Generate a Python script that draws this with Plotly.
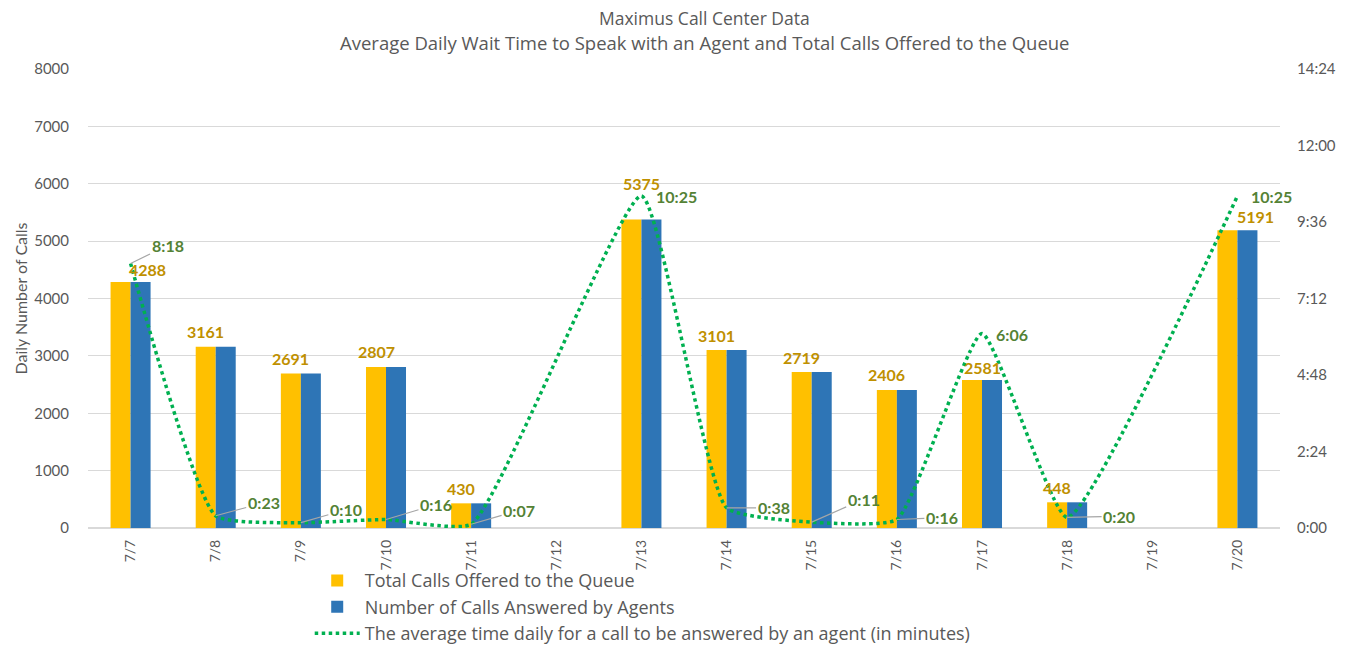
import plotly.graph_objects as go

dates = ["7/7", "7/8", "7/9", "7/10", "7/11", "7/12", "7/13", "7/14", "7/15", "7/16", "7/17", "7/18", "7/19", "7/20"]
offered = [4288, 3161, 2691, 2807, 430, None, 5375, 3101, 2719, 2406, 2581, 448, None, 5191]
answered = [4288, 3161, 2691, 2807, 430, None, 5375, 3101, 2719, 2406, 2581, 448, None, 5191]
# average wait in minutes (m:ss)
wait_labels = ["8:18", "0:23", "0:10", "0:16", "0:07", None, "10:25", "0:38", "0:11", "0:16", "6:06", "0:20", None, "10:25"]
right_ticks = ["0:00", "2:24", "4:48", "7:12", "9:36", "12:00", "14:24"]
title_lines = ["Maximus Call Center Data",
               "Average Daily Wait Time to Speak with an Agent and Total Calls Offered to the Queue"]


def to_min(s):
    if s is None:
        return None
    m, sec = s.split(":")
    return int(m) + int(sec) / 60.0


wait = [to_min(s) for s in wait_labels]

FONT = "Lato, Carlito, Open Sans, sans-serif"
FONT2 = "Open Sans, Lato, sans-serif"
GRAY = "#595959"
GOLD = "#BF9000"
GREEN = "#548235"

fig = go.Figure()
fig.add_bar(x=dates, y=offered, name="Total Calls Offered to the Queue",
            marker=dict(color="#FFC000", line=dict(width=0)))
fig.add_bar(x=dates, y=answered, name="Number of Calls Answered by Agents",
            marker=dict(color="#2E75B6", line=dict(width=0)))
fig.add_scatter(x=dates, y=wait, yaxis="y2", mode="lines", connectgaps=True,
                name="The average time daily for a call to be answered by an agent (in minutes)",
                line=dict(color="#00B050", width=3.5, dash="dot", shape="spline", smoothing=0.45))

# bar value labels (xshift, yshift in px)
bar_off = {"7/7": (17, 12), "7/13": (0, 36), "7/17": (0, 12), "7/20": (18, 14)}
for d, v in zip(dates, offered):
    if v is None:
        continue
    xs, ys = bar_off.get(d, (-10, 15))
    fig.add_annotation(x=d, y=v, text=str(v), showarrow=False, xshift=xs, yshift=ys,
                       font=dict(family=FONT, size=16, color=GOLD, weight="bold"))

# line value labels: (ax, ay, leader)
line_off = {"7/7": (37, -18, True), "7/8": (48, -13, True), "7/9": (45, -13, True),
            "7/10": (50, -15, True), "7/11": (48, -14, True), "7/13": (35, 1, False),
            "7/14": (47, 0, True), "7/15": (52, -23, True), "7/16": (45, -2, True),
            "7/17": (30, 1, False), "7/18": (52, -1, True), "7/20": (34, 1, False)}
for d, v, lab in zip(dates, wait, wait_labels):
    if v is None:
        continue
    ax, ay, leader = line_off[d]
    if leader:
        fig.add_annotation(x=d, y=v, yref="y2", text=lab, showarrow=True, arrowhead=0,
                           arrowwidth=1.2, arrowcolor="#A6A6A6", ax=ax, ay=ay, standoff=0,
                           font=dict(family=FONT, size=16, color=GREEN, weight="bold"))
    else:
        fig.add_annotation(x=d, y=v, yref="y2", text=lab, showarrow=False, xshift=ax, yshift=-ay,
                           font=dict(family=FONT, size=16, color=GREEN, weight="bold"))

# title lines
for txt, ys, fs in zip(title_lines, [51, 27], [17.5, 18.5]):
    fig.add_annotation(xref="paper", yref="paper", x=0.5176, y=1, yshift=ys, text=txt,
                       showarrow=False, xanchor="center", yanchor="middle",
                       font=dict(family=FONT2, size=fs, color=GRAY))

fig.update_layout(
    width=1353, height=646,
    margin=dict(l=80, r=81, t=61, b=126, autoexpand=False),
    paper_bgcolor="white", plot_bgcolor="white",
    font=dict(family=FONT, color=GRAY, size=15),
    barmode="group", bargap=0.53, bargroupgap=0,
    xaxis=dict(type="category", range=[-0.5, len(dates) - 0.5], tickangle=-90, showgrid=False,
               showline=False, ticks="", ticklabelstandoff=8, automargin=False,
               tickfont=dict(family=FONT, size=14, color=GRAY)),
    yaxis=dict(range=[0, 8000], dtick=1000, showgrid=True, gridcolor="#D9D9D9", gridwidth=1,
               zeroline=True, zerolinecolor="#D9D9D9", ticks="", ticklabelstandoff=18,
               automargin=False,
               title=dict(text="Daily Number of Calls", font=dict(family=FONT, size=16, color=GRAY), standoff=2),
               tickfont=dict(family=FONT, size=15, color=GRAY)),
    yaxis2=dict(overlaying="y", side="right", range=[0, 14.4], tickvals=[0, 2.4, 4.8, 7.2, 9.6, 12.0, 14.4],
                ticktext=right_ticks, showgrid=False, zeroline=False, ticks="", ticklabelstandoff=16,
                automargin=False, tickfont=dict(family=FONT, size=15, color=GRAY)),
    legend=dict(orientation="v", xref="paper", x=0.186, xanchor="left", yref="container", y=0.142,
                yanchor="top", font=dict(family=FONT2, size=18, color=GRAY), tracegroupgap=0,
                itemwidth=45, bgcolor="rgba(0,0,0,0)"),
    showlegend=True,
)

fig.write_html("out.html")
